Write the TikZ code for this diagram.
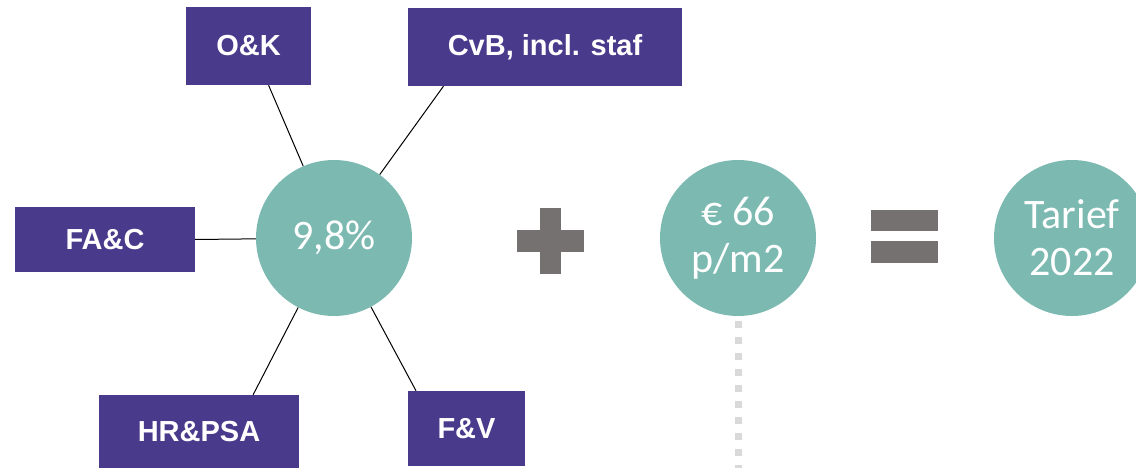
\documentclass[tikz,border=0pt]{standalone}
\usepackage{fontspec}
\setmainfont{Carlito}
\newfontfamily\boxfont{Liberation Sans}
\usetikzlibrary{calc}
\definecolor{cPurple}{HTML}{493A8C}
\definecolor{cTeal}{HTML}{7BB9B1}
\definecolor{cGray}{HTML}{757170}
\definecolor{cLight}{HTML}{D9D9D9}
\tikzset{
  unit-box/.style={fill=cPurple,text=white,inner sep=0pt,align=center,
    font=\boxfont\bfseries\fontsize{29}{34}\selectfont},
  tariff-circle/.style={circle,fill=cTeal,text=white,minimum size=156pt,
    inner sep=0pt,align=center,font=\fontsize{42}{47}\selectfont},
  spoke/.style={draw=black,line width=1pt},
  sign/.style={fill=cGray},
  guide/.style={draw=cLight,line width=7pt,dash pattern=on 7pt off 9pt},
}

\begin{document}
\begin{tikzpicture}[x=1pt,y=-1pt]
  \useasboundingbox (0,0) rectangle (1136,468);
  % opslagpercentage
  \node[tariff-circle] (pct) at (334,238) {9,8\%};
  % afdelingen
  \node[unit-box,minimum width=125pt,minimum height=78pt] (ok) at (248.5,46) {O\&K};
  \node[unit-box,minimum width=274pt,minimum height=78pt] (cvb) at (545,47) {CvB, incl. staf};
  \node[unit-box,minimum width=180pt,minimum height=65pt] (fac) at (105,239.5) {FA\&C};
  \node[unit-box,minimum width=200pt,minimum height=73pt] (hrpsa) at (199,431.5) {HR\&PSA};
  \node[unit-box,minimum width=117pt,minimum height=75pt] (fv) at (466.5,428.5) {F\&V};
  \draw[spoke] ($(ok.south west)!0.66!(ok.south east)$) -- (pct);
  \draw[spoke] ($(cvb.south west)!0.13!(cvb.south east)$) -- (pct);
  \draw[spoke] (fac.east) -- (pct);
  \draw[spoke] ($(hrpsa.north west)!0.77!(hrpsa.north east)$) -- (pct);
  \draw[spoke] ($(fv.north west)!0.07!(fv.north east)$) -- (pct);
  % plus
  \fill[sign] (517,230) rectangle (584,252);
  \fill[sign] (540,208) rectangle (561,274);
  % prijs per m2
  \node[tariff-circle] (eur) at (738,238) {€ 66\\p/m2};
  \coordinate (guide-end) at (738,468);
  \draw[guide] ([yshift=-5pt]eur.south) -- (guide-end);
  % is
  \fill[sign] (871,210) rectangle (938,231);
  \fill[sign] (871,241) rectangle (938,263);
  % uitkomst
  \node[tariff-circle] (tarief) at (1072,238) {Tarief\\2022};
\end{tikzpicture}
\end{document}
